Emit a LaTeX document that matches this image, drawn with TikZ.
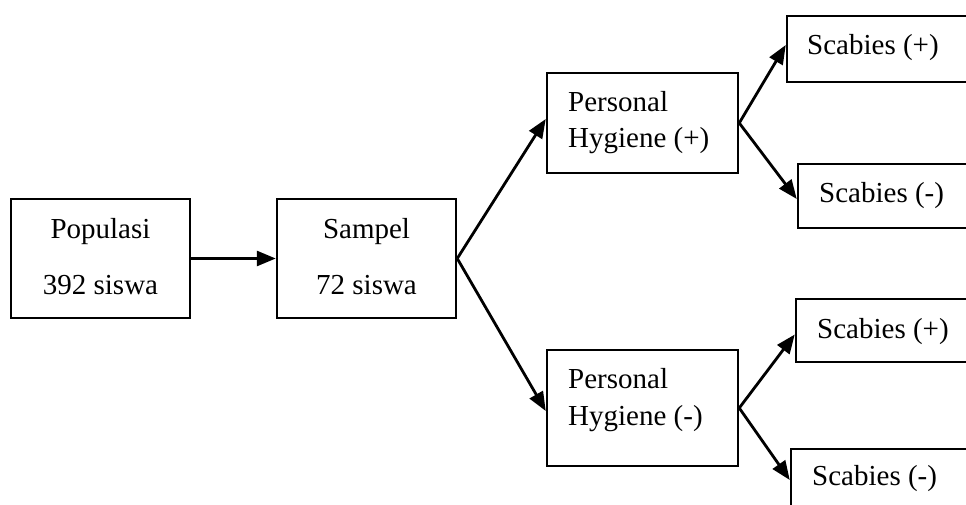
\documentclass[tikz,border=0pt]{standalone}
\usepackage{fontspec}
\setmainfont{Liberation Serif}
\usetikzlibrary{arrows.meta}
\begin{document}
\begin{tikzpicture}[x=1pt,y=-1pt,
  box/.style={draw,line width=2.5pt,inner sep=0pt,minimum width=#1},
  lbl/.style={inner sep=0pt,anchor=base west,font=\fontsize{29}{34}\selectfont},
  clbl/.style={inner sep=0pt,anchor=base,font=\fontsize{29}{34}\selectfont},
  arr/.style={line width=2.8pt,-{Triangle[length=19pt,width=15pt]}}]
\useasboundingbox (0,0) rectangle (966,505);
\clip (0,0) rectangle (966,505);
% boxes
\node[box=179pt,minimum height=119pt] (pop) at (100.5,258.5) {};
\node[box=179pt,minimum height=119pt] (samp) at (366.5,258.5) {};
\node[box=191pt,minimum height=100pt] (php) at (642.5,123) {};
\node[box=191pt,minimum height=116pt] (phm) at (642.5,408) {};
\node[box=193pt,minimum height=66pt] (s1) at (883.5,49) {};
\node[box=182pt,minimum height=64pt] (s2) at (889,196) {};
\node[box=184pt,minimum height=63pt] (s3) at (888,330.5) {};
\node[box=189pt,minimum height=66pt] (s4) at (885.5,482) {};
% texts
\node[clbl] (t1) at (100.5,238) {Populasi};
\node[clbl] (t2) at (100.5,294) {392 siswa};
\node[clbl] (t3) at (366.5,238) {Sampel};
\node[clbl] (t4) at (366.5,294) {72 siswa};
\node[lbl] (t5) at (568,112) {Personal};
\node[lbl] (t6) at (568,148) {Hygiene (+)};
\node[lbl] (t7) at (568,388) {Personal};
\node[lbl] (t8) at (568,425) {Hygiene (-)};
\node[lbl] (t9) at (807,55) {Scabies (+)};
\node[lbl] (t10) at (819,203) {Scabies (-)};
\node[lbl] (t11) at (817,338) {Scabies (+)};
\node[lbl] (t12) at (812,485) {Scabies (-)};
% arrows
\draw[arr] (pop.east) -- (samp.west);
\draw[arr] (samp.east) -- ([yshift=4pt]php.west);
\draw[arr] (samp.east) -- ([yshift=-3pt]phm.west);
\draw[arr] (php.east) -- ([yshift=4pt]s1.west);
\draw[arr] (php.east) -- ([yshift=-3pt]s2.west);
\draw[arr] (phm.east) -- ([yshift=-4pt]s3.west);
\draw[arr] (phm.east) -- ([yshift=2pt]s4.west);
\end{tikzpicture}
\end{document}
